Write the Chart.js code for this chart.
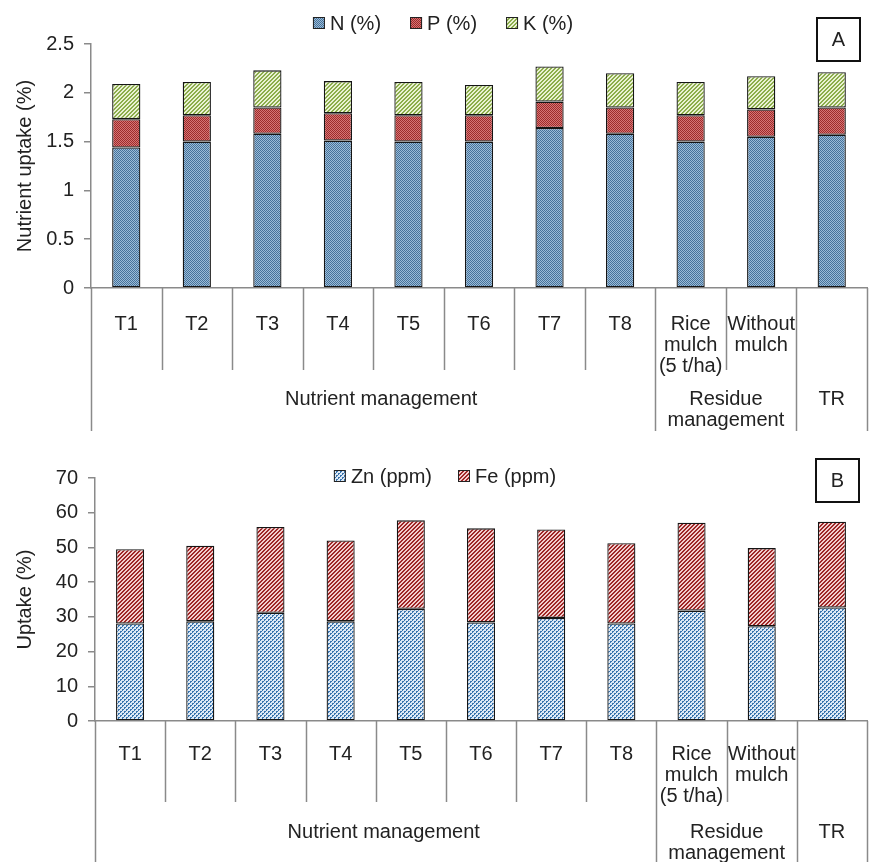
<!DOCTYPE html>
<html><head><meta charset="utf-8">
<script src="https://cdn.jsdelivr.net/npm/chart.js@4.4.1/dist/chart.umd.min.js"></script>
<style>
html,body{margin:0;padding:0;background:#fff;}
#wrap{position:relative;width:871px;height:862px;overflow:hidden;background:#fff;}
canvas{position:absolute;left:0;}
</style></head><body>
<div id="wrap">
<canvas id="cA" width="871" height="431" style="top:0;width:871px;height:431px"></canvas>
<canvas id="cB" width="871" height="431" style="top:431px;width:871px;height:431px"></canvas>
</div>
<script>
// ---- data ----
const categories = ['T1','T2','T3','T4','T5','T6','T7','T8',['Rice','mulch','(5 t/ha)'],['Without','mulch'],''];
const groupLabels = [['Nutrient management'],['Residue','management'],['TR']];
const groupStarts = [0,8,10];
const groupEnds = [8,10,11];
const nValues = [1.44,1.50,1.58,1.51,1.50,1.50,1.64,1.58,1.50,1.55,1.57];
const pValues = [0.29,0.27,0.27,0.28,0.27,0.27,0.27,0.27,0.27,0.28,0.28];
const kValues = [0.36,0.34,0.38,0.33,0.34,0.31,0.36,0.35,0.34,0.34,0.36];
const znValues = [28.1,28.7,31.2,28.7,32.3,28.4,29.7,28.1,31.8,27.3,32.7];
const feValues = [21.4,21.8,24.7,23.3,25.5,27.1,25.5,23.1,25.3,22.5,24.7];
const yTicksA = [0,0.5,1,1.5,2,2.5];
const yTicksB = [0,10,20,30,40,50,60,70];
const seriesA = ['N (%)','P (%)','K (%)'];
const seriesB = ['Zn (ppm)','Fe (ppm)'];

// ---- patterns ----
function pattern(rows, dark, light){
  const h = rows.length, w = rows[0].length;
  const c = document.createElement('canvas'); c.width = w; c.height = h;
  const x = c.getContext('2d');
  x.fillStyle = light; x.fillRect(0,0,w,h);
  x.fillStyle = dark;
  for(let j=0;j<h;j++) for(let i=0;i<w;i++) if(rows[j][i]==='X') x.fillRect(i,j,1,1);
  return x.createPattern(c,'repeat');
}
const patN = pattern(['X.', '.X'], '#47729a', '#9bbcd8');
const patP = pattern(['X.', '.X'], '#9c2b2b', '#d67474');
const patK = pattern(['..XX','.XX.','XX..','X..X'], '#8cad4c', '#eaf2d4');
const patZn = pattern(['XX..','X...','..XX','..X.'], '#3873ad', '#dde9f5');
const patFe = pattern(['..XX','.XX.','XX..','X..X'], '#9e2626', '#f2cccc');

const AXIS = '#8a8a8a';
const TXT = '#222';
const FONT = "'Liberation Sans', Arial, sans-serif";

const decoPlugin = {
  id: 'deco',
  afterDraw(chart, args, opts){
    const ctx = chart.ctx, a = chart.chartArea, xs = chart.scales.x;
    const n = chart.data.labels.length;
    const bx = b => b===0 ? a.left : (b===n ? a.right : (xs.getPixelForValue(b-1)+xs.getPixelForValue(b))/2);
    ctx.save();
    // dividers
    ctx.strokeStyle = AXIS; ctx.lineWidth = 1.5;
    const longs = [0].concat(groupEnds);
    for(let b=0;b<=n;b++){
      const x = Math.round(bx(b))+0.5;
      const len = longs.includes(b) ? opts.longLen : opts.shortLen;
      ctx.beginPath(); ctx.moveTo(x, a.bottom); ctx.lineTo(x, a.bottom+len); ctx.stroke();
    }
    // group labels
    ctx.fillStyle = TXT; ctx.font = '20px ' + FONT; ctx.textAlign='center'; ctx.textBaseline='middle';
    groupLabels.forEach((lines,g)=>{
      const cx = (bx(groupStarts[g])+bx(groupEnds[g]))/2 + (g===0 ? opts.firstShift : 0);
      lines.forEach((t,k)=> ctx.fillText(t, cx, a.bottom + opts.groupOffset + k*21));
    });
    // legend
    ctx.font = '20px ' + FONT; ctx.textAlign='left';
    const ds = chart.data.datasets;
    const widths = ds.map(d => 12 + 5 + ctx.measureText(d.label).width);
    const total = widths.reduce((s,w)=>s+w,0) + opts.legendGap*(ds.length-1);
    let x = opts.legendCenter - total/2;
    ds.forEach((d,i)=>{
      ctx.fillStyle = d.backgroundColor; ctx.fillRect(x, opts.legendY-6, 12, 12);
      ctx.strokeStyle = '#222'; ctx.lineWidth = 1; ctx.strokeRect(x+0.5, opts.legendY-5.5, 11, 11);
      ctx.fillStyle = TXT; ctx.fillText(d.label, x+17, opts.legendY+1);
      x += widths[i] + opts.legendGap;
    });
    // panel letter box
    const p = opts.panel;
    ctx.strokeStyle = '#111'; ctx.lineWidth = 2;
    ctx.strokeRect(p.x, p.y, p.w, p.h);
    ctx.fillStyle = TXT; ctx.textAlign='center'; ctx.font = '20px ' + FONT;
    ctx.fillText(p.text, p.x+p.w/2, p.y+p.h/2+1);
    ctx.restore();
  }
};

function makeChart(id, datasets, yTicks, yTitle, cfg){
  return new Chart(document.getElementById(id), {
    type: 'bar',
    data: { labels: categories, datasets },
    plugins: [decoPlugin],
    options: {
      responsive: false, animation: false, devicePixelRatio: 1,
      layout: { padding: { top: cfg.top, right: 4, left: 0, bottom: 0 } },
      datasets: { bar: { categoryPercentage: 1, barPercentage: 0.4, borderColor: '#151515', borderWidth: 1.3, borderSkipped: false } },
      plugins: { legend: { display: false }, tooltip: { enabled: false }, deco: cfg.deco },
      scales: {
        x: {
          stacked: true,
          grid: { display: false },
          border: { display: true, color: AXIS, width: 1.5 },
          ticks: { color: TXT, font: { family: FONT, size: 20, lineHeight: 1.05 }, padding: cfg.xPad, maxRotation: 0, autoSkip: false },
          afterFit: s => { s.height = cfg.xHeight; }
        },
        y: {
          stacked: true,
          min: yTicks[0], max: yTicks[yTicks.length-1],
          afterBuildTicks: s => { s.ticks = yTicks.map(v => ({ value: v })); },
          grid: { drawOnChartArea: false, drawTicks: true, tickLength: 7, color: AXIS, lineWidth: 1.5 },
          border: { display: true, color: AXIS, width: 1.5 },
          ticks: { color: TXT, font: { family: FONT, size: 20 }, padding: 10, callback: v => String(v) },
          title: { display: true, text: yTitle, color: TXT, font: { family: FONT, size: 20 }, padding: { top: 13, bottom: 0 } },
          afterFit: s => { s.width = cfg.yWidth; }
        }
      }
    }
  });
}

makeChart('cA', [
  { label: seriesA[0], data: nValues, backgroundColor: patN },
  { label: seriesA[1], data: pValues, backgroundColor: patP },
  { label: seriesA[2], data: kValues, backgroundColor: patK }
], yTicksA, 'Nutrient uptake (%)', {
  top: 44, xHeight: 143, yWidth: 91, xPad: 18,
  deco: { shortLen: 82, longLen: 145, groupOffset: 111, firstShift: 8, legendY: 23, legendCenter: 443, legendGap: 29,
          panel: { x: 817, y: 18, w: 43, h: 43, text: 'A' } }
});

makeChart('cB', [
  { label: seriesB[0], data: znValues, backgroundColor: patZn },
  { label: seriesB[1], data: feValues, backgroundColor: patFe }
], yTicksB, 'Uptake (%)', {
  top: 47, xHeight: 141, yWidth: 95, xPad: 15,
  deco: { shortLen: 81, longLen: 150, groupOffset: 111, firstShift: 8, legendY: 45, legendCenter: 445, legendGap: 26,
          panel: { x: 816, y: 28, w: 43, h: 43, text: 'B' } }
});
</script>
</body></html>
